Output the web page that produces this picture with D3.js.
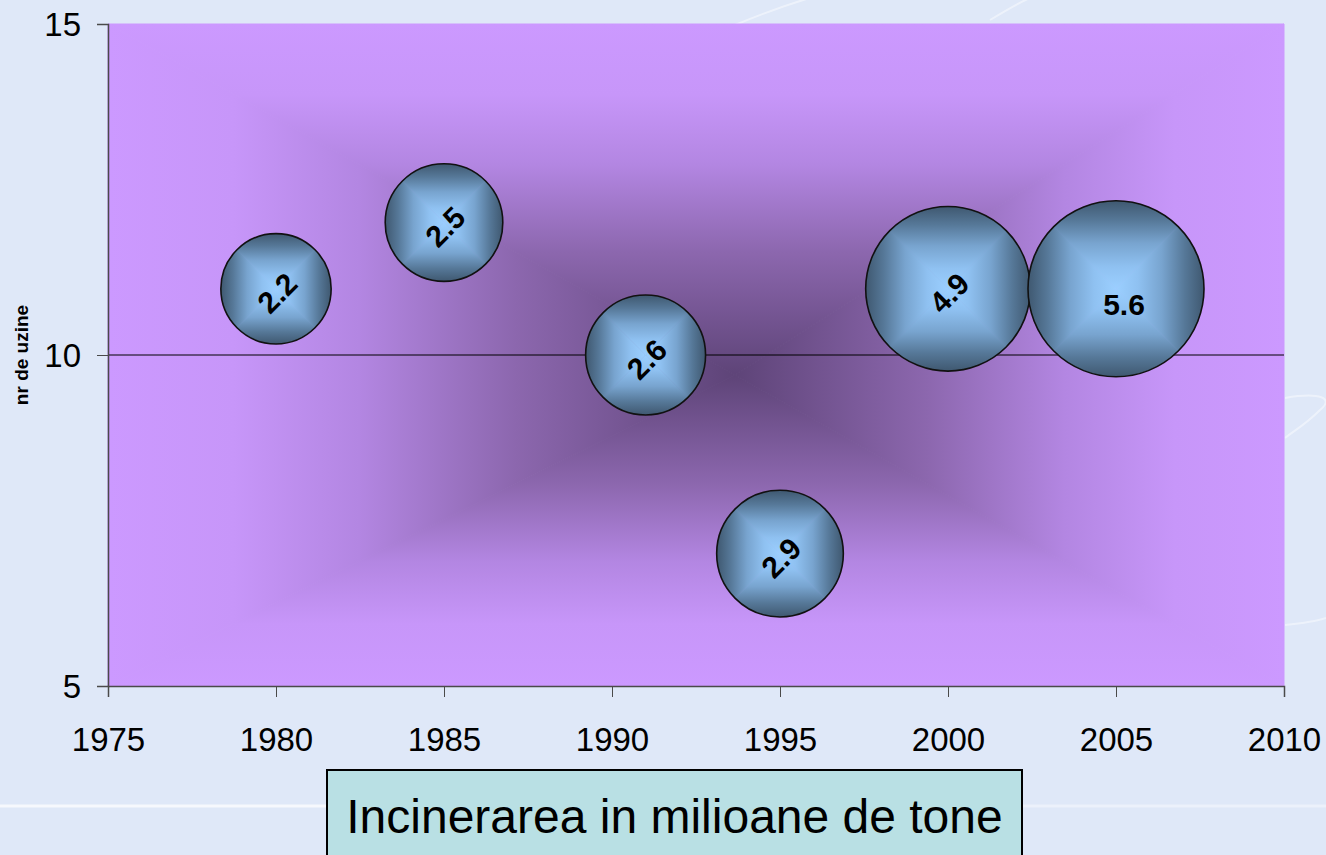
<!DOCTYPE html>
<html>
<head>
<meta charset="utf-8">
<script src="https://cdn.jsdelivr.net/npm/d3@7"></script>
<style>
  body { margin: 0; background: #dfe8f8; }
  svg text { font-family: Arial, 'Liberation Sans', sans-serif; }
</style>
</head>
<body>
<div id="chart"></div>
<script>
// data
var years = [1980, 1985, 1991, 1995, 2000, 2005];
var plants = [11, 12, 10, 7, 11, 11];
var tonnes = [2.2, 2.5, 2.6, 2.9, 4.9, 5.6];
var xTicks = [1975, 1980, 1985, 1990, 1995, 2000, 2005, 2010];
var yTicks = [5, 10, 15];
var xTitle = 'Incinerarea in milioane de tone';
var yTitle = 'nr de uzine';

var svgWidth = 1326;
var svgHeight = 855;

var margin = { top: 24, right: 42, bottom: 169, left: 108 };
var width = svgWidth - margin.left - margin.right;
var height = svgHeight - margin.top - margin.bottom;

var svg = d3.select('#chart')
  .append('svg')
  .attr('width', svgWidth)
  .attr('height', svgHeight);

var defs = svg.append('defs');

// four edge->centre gradients, used to fake a rectangular "from centre" fill
function makeGrads(prefix, stops) {
  var dirs = {
    top: [0, 0, 0, 1],
    right: [1, 0, 0, 0],
    bottom: [0, 1, 0, 0],
    left: [0, 0, 1, 0]
  };
  Object.keys(dirs).forEach(function(k) {
    var d = dirs[k];
    var g = defs.append('linearGradient')
      .attr('id', prefix + '-' + k)
      .attr('x1', d[0]).attr('y1', d[1])
      .attr('x2', d[2]).attr('y2', d[3]);
    stops.forEach(function(s) {
      g.append('stop').attr('offset', s[0]).attr('stop-color', s[1]);
    });
  });
}

makeGrads('bg', [[0, '#cc99ff'], [0.2, '#c796f9'], [0.4, '#b386e2'], [0.65, '#8c67ae'], [1, '#5e4478']]);
makeGrads('bub', [[0, '#3f5870'], [0.22, '#567898'], [0.48, '#78a4cf'], [0.75, '#8fc1f1'], [1, '#9bcfff']]);

defs.append('clipPath')
  .attr('id', 'bub-clip')
  .attr('clipPathUnits', 'objectBoundingBox')
  .append('circle')
  .attr('cx', 0.5).attr('cy', 0.5).attr('r', 0.5);

// soft decoration in the page background
var deco = svg.append('g')
  .attr('fill', 'none')
  .attr('stroke', '#ffffff')
  .attr('stroke-opacity', 0.45)
  .attr('stroke-width', 2);
deco.append('path').attr('d', 'M660,60 C710,35 760,12 820,-5');
deco.append('path').attr('d', 'M990,20 C1010,8 1020,2 1030,-2');
deco.append('path').attr('d', 'M1285,398 C1320,392 1335,398 1320,410 C1305,425 1295,430 1285,438');
deco.append('path').attr('d', 'M1285,625 C1305,623 1320,620 1326,618');
deco.append('path').attr('d', 'M0,806 L330,806').attr('stroke-opacity', 0.7).attr('stroke-width', 3);
deco.append('path').attr('d', 'M1020,806 L1326,806').attr('stroke-opacity', 0.4).attr('stroke-width', 3);

var chartGroup = svg.append('g')
  .attr('transform', `translate(${margin.left}, ${margin.top})`);

var xLinearScale = d3.scaleLinear()
  .domain([1975, 2010])
  .range([0, width]);

var yLinearScale = d3.scaleLinear()
  .domain([5, 15])
  .range([height, 0]);

var rScale = d3.scaleSqrt()
  .domain([0, d3.max(tonnes)])
  .range([0, 88]);

// plot area background
var fx = 627, fy = 351;
var bgTris = [
  ['top', [[0, 0], [width, 0], [fx, fy]]],
  ['right', [[width, 0], [width, height], [fx, fy]]],
  ['bottom', [[width, height], [0, height], [fx, fy]]],
  ['left', [[0, height], [0, 0], [fx, fy]]]
];
chartGroup.selectAll('path.bg')
  .data(bgTris)
  .enter()
  .append('path')
  .attr('class', 'bg')
  .attr('d', d => 'M' + d[1].join('L') + 'Z')
  .attr('fill', d => `url(#bg-${d[0]})`)
  .attr('stroke', d => `url(#bg-${d[0]})`)
  .attr('stroke-width', 1);

// grid line
chartGroup.append('line')
  .attr('x1', 0).attr('x2', width)
  .attr('y1', yLinearScale(10)).attr('y2', yLinearScale(10))
  .attr('stroke', '#000')
  .attr('stroke-width', 1);

// axes
var bottomAxis = d3.axisBottom(xLinearScale)
  .tickValues(xTicks)
  .tickFormat(d3.format('d'))
  .tickSize(11)
  .tickPadding(31);

var leftAxis = d3.axisLeft(yLinearScale)
  .tickValues(yTicks)
  .tickSize(11)
  .tickPadding(16);

var xAxis = chartGroup.append('g')
  .attr('transform', `translate(0, ${height})`)
  .call(bottomAxis);

var yAxis = chartGroup.append('g')
  .call(leftAxis);

[xAxis, yAxis].forEach(function(ax) {
  ax.select('.domain').attr('stroke', '#4a4a4a').attr('stroke-width', 1.5);
  ax.selectAll('.tick line').attr('stroke', '#4a4a4a');
  ax.selectAll('.tick text')
    .attr('font-size', '33px')
    .attr('fill', '#000')
    .style('font-family', "Arial, 'Liberation Sans', sans-serif");
});
yAxis.selectAll('.tick text').attr('dy', '0.36em');

// bubbles
var bubbles = chartGroup.selectAll('g.bubble')
  .data(tonnes)
  .enter()
  .append('g')
  .attr('class', 'bubble')
  .attr('transform', (d, i) => `translate(${xLinearScale(years[i])}, ${yLinearScale(plants[i])})`);

bubbles.each(function(d) {
  var r = rScale(d);
  var g = d3.select(this).append('g').attr('clip-path', 'url(#bub-clip)');
  var tris = [
    ['top', [[-r, -r], [r, -r], [0, 0]]],
    ['right', [[r, -r], [r, r], [0, 0]]],
    ['bottom', [[r, r], [-r, r], [0, 0]]],
    ['left', [[-r, r], [-r, -r], [0, 0]]]
  ];
  g.selectAll('path')
    .data(tris)
    .enter()
    .append('path')
    .attr('d', t => 'M' + t[1].join('L') + 'Z')
    .attr('fill', t => `url(#bub-${t[0]})`)
    .attr('stroke', t => `url(#bub-${t[0]})`)
    .attr('stroke-width', 0.8);
  d3.select(this).append('circle')
    .attr('r', r)
    .attr('fill', 'none')
    .attr('stroke', '#111')
    .attr('stroke-width', 1.6);
});

// value labels
bubbles.append('text')
  .text(d => d.toFixed(1))
  .attr('font-size', '30px')
  .attr('font-weight', 'bold')
  .attr('fill', '#000')
  .attr('text-anchor', 'middle')
  .attr('dy', '0.36em')
  .attr('transform', (d, i) => i === tonnes.length - 1 ? 'translate(8, 15)' : 'translate(1, 4) rotate(-45)');

// y axis title
svg.append('text')
  .attr('transform', `translate(28, ${margin.top + yLinearScale(10)}) rotate(-90)`)
  .attr('text-anchor', 'middle')
  .attr('font-size', '19px')
  .attr('font-weight', 'bold')
  .text(yTitle);

// x axis title in a box
var boxGroup = svg.append('g');
boxGroup.append('rect')
  .attr('x', 327).attr('y', 770)
  .attr('width', 695).attr('height', 100)
  .attr('fill', '#b9e0e4')
  .attr('stroke', '#000')
  .attr('stroke-width', 2);
boxGroup.append('text')
  .attr('x', 674.5).attr('y', 833)
  .attr('text-anchor', 'middle')
  .attr('font-size', '48px')
  .text(xTitle);
</script>
</body>
</html>
